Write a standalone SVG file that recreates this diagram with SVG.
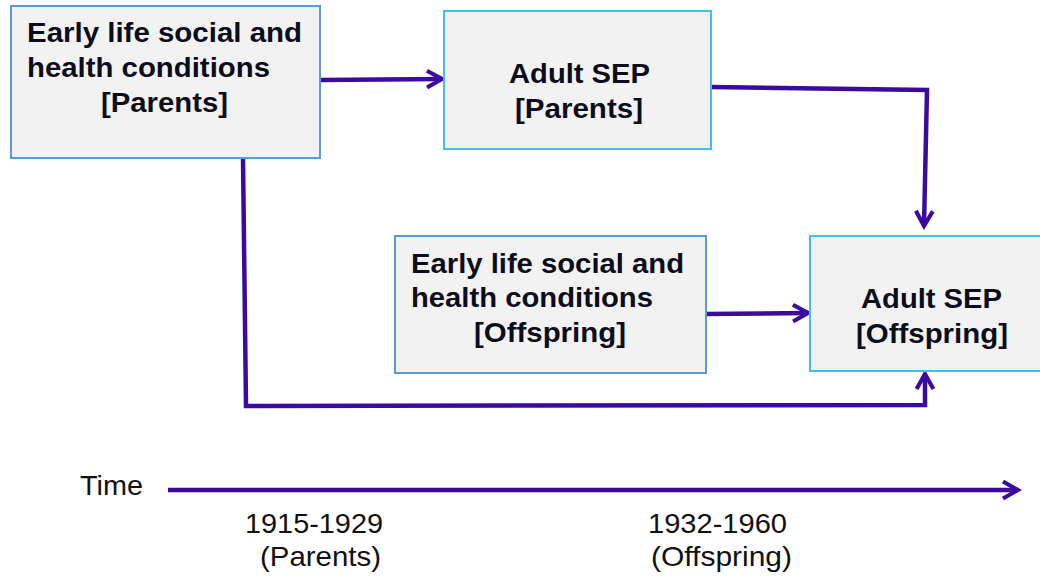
<svg xmlns="http://www.w3.org/2000/svg" width="1040" height="576" viewBox="0 0 1040 576">
<style>
.box{fill:#f2f2f2;stroke-width:2}
.b1{stroke:#5b9bd5}
.b2{stroke:#3fc0ef}
.t{font-family:"Liberation Sans",Arial,sans-serif;font-weight:bold;font-size:27px;fill:#0d0d1a}
.r{font-family:"Liberation Sans",Arial,sans-serif;font-size:28px;fill:#111}
.c{fill:none;stroke:#3a0b9e;stroke-width:4.5;stroke-linejoin:miter}
</style>
<defs>
<marker id="ah" viewBox="0 0 12 12" refX="10" refY="6" markerWidth="5" markerHeight="5" markerUnits="strokeWidth" orient="auto">
<path d="M2,1.5 L10,6 L2,10.5" fill="none" stroke="#3a0b9e" stroke-width="2.2"/>
</marker>
</defs>
<rect width="1040" height="576" fill="#fff"/>
<g id="connectors">
<path class="c" d="M320,80 L442,79" marker-end="url(#ah)"/>
<path class="c" d="M711,87 L927,90 L924,226" marker-end="url(#ah)"/>
<path class="c" d="M706,314 L808,313" marker-end="url(#ah)"/>
<path class="c" d="M243,158 L246,406 L925,405 L925,374" marker-end="url(#ah)"/>
<path class="c" d="M168,490 L1018,490" marker-end="url(#ah)"/>
</g>
<g id="node-early-parents">
<rect class="box b1" x="11" y="6" width="309" height="152"/>
<text class="t" x="27" y="42" textLength="275" lengthAdjust="spacingAndGlyphs">Early life social and</text>
<text class="t" x="27" y="77" textLength="243" lengthAdjust="spacingAndGlyphs">health conditions</text>
<text class="t" x="101" y="112" textLength="127" lengthAdjust="spacingAndGlyphs">[Parents]</text>
</g>
<g id="node-adult-parents">
<rect class="box b2" x="444" y="11" width="267" height="138"/>
<text class="t" x="509" y="83" textLength="141" lengthAdjust="spacingAndGlyphs">Adult SEP</text>
<text class="t" x="515" y="118" textLength="128" lengthAdjust="spacingAndGlyphs">[Parents]</text>
</g>
<g id="node-early-offspring">
<rect class="box b1" x="395" y="236" width="311" height="137"/>
<text class="t" x="411" y="273" textLength="273" lengthAdjust="spacingAndGlyphs">Early life social and</text>
<text class="t" x="411" y="307" textLength="242" lengthAdjust="spacingAndGlyphs">health conditions</text>
<text class="t" x="474" y="342" textLength="152" lengthAdjust="spacingAndGlyphs">[Offspring]</text>
</g>
<g id="node-adult-offspring">
<rect class="box b2" x="810" y="236" width="240" height="135"/>
<text class="t" x="861" y="308" textLength="141" lengthAdjust="spacingAndGlyphs">Adult SEP</text>
<text class="t" x="856" y="343" textLength="152" lengthAdjust="spacingAndGlyphs">[Offspring]</text>
</g>
<g id="timeline-labels">
<text class="r" x="80" y="495" textLength="63" lengthAdjust="spacingAndGlyphs">Time</text>
<text class="r" x="245" y="533" textLength="138" lengthAdjust="spacingAndGlyphs">1915-1929</text>
<text class="r" x="260" y="566" textLength="121" lengthAdjust="spacingAndGlyphs">(Parents)</text>
<text class="r" x="648" y="533" textLength="139" lengthAdjust="spacingAndGlyphs">1932-1960</text>
<text class="r" x="651" y="566" textLength="141" lengthAdjust="spacingAndGlyphs">(Offspring)</text>
</g>
</svg>
